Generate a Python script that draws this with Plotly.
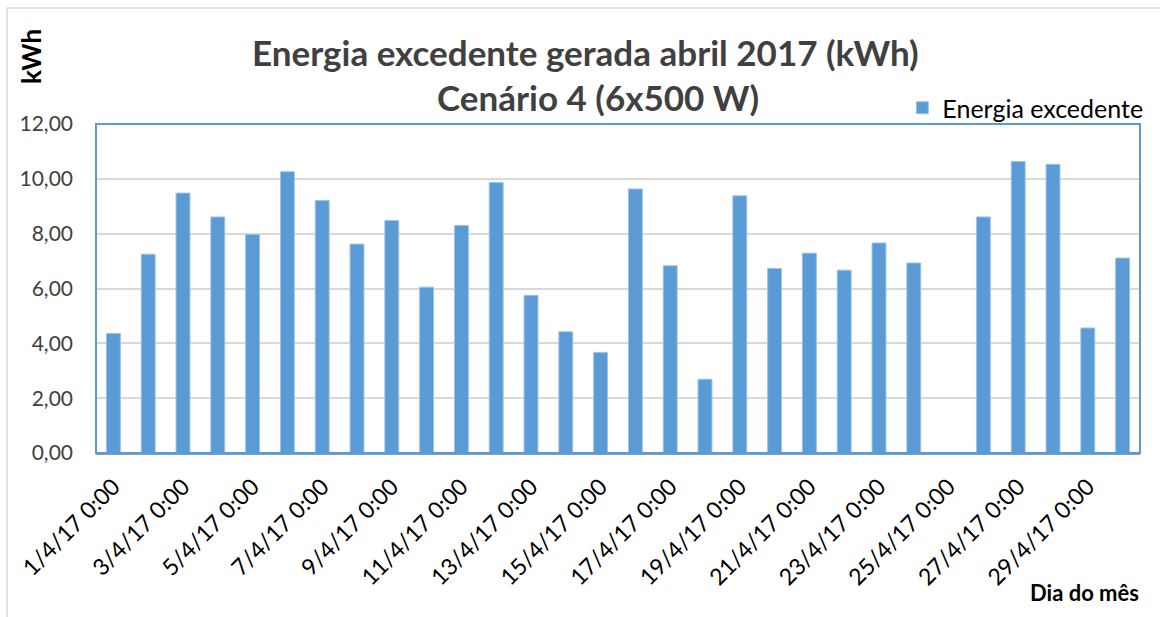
import plotly.graph_objects as go

# Surplus energy per day, April 2017 (kWh)
dias = list(range(1, 31))
energia = [4.36, 7.25, 9.48, 8.61, 7.97, 10.26, 9.21, 7.62, 8.48, 6.05,
           8.30, 9.87, 5.75, 4.42, 3.67, 9.63, 6.83, 2.69, 9.38, 6.73,
           7.29, 6.67, 7.66, 6.93, 0.0, 8.61, 10.63, 10.53, 4.56, 7.11]
tick_dias = list(range(1, 30, 2))
tick_textos = [f"{d}/4/17 0:00" for d in tick_dias]
y_ticks = [0, 2, 4, 6, 8, 10, 12]
y_textos = ["0,00", "2,00", "4,00", "6,00", "8,00", "10,00", "12,00"]

FONT = "Lato"
AZUL = "#5b9bd5"

# plot area in pixels
L, R, T, B = 96, 1140, 124, 453
W, H = R - L, B - T


def px(x):
    return (x - L) / W


def py(y):
    return (B - y) / H


fig = go.Figure()
fig.add_trace(go.Bar(
    x=dias, y=energia, name="Energia excedente",
    marker=dict(color=AZUL, line=dict(color="#9dc3e6", width=1)),
))

fig.update_layout(
    width=1160, height=617,
    paper_bgcolor="white", plot_bgcolor="white",
    margin=dict(l=L, r=1160 - R, t=T, b=617 - B, autoexpand=False),
    bargap=0.6,
    showlegend=True,
    legend=dict(x=1.008, xanchor="right", y=py(108), yanchor="middle",
                font=dict(family=FONT, size=25, color="#000000"),
                bgcolor="rgba(0,0,0,0)", itemwidth=30),
    font=dict(family=FONT, color="#595959"),
    xaxis=dict(
        range=[0.5, 30.5], tickmode="array", tickvals=tick_dias,
        ticktext=tick_textos, tickangle=-45,
        tickfont=dict(family=FONT, size=23, color="#000000"),
        showgrid=False, showline=True, linecolor="#7f9fbf", linewidth=2,
        mirror=False, ticks="", zeroline=False, ticklabelstandoff=9,
        automargin=False,
    ),
    yaxis=dict(
        range=[0, 12], tickmode="array", tickvals=y_ticks, ticktext=y_textos,
        tickfont=dict(family=FONT, size=21, color="#404040"),
        showgrid=True, gridcolor="#d9d9d9", gridwidth=2,
        showline=False, zeroline=False, ticks="", ticklabelstandoff=22,
        automargin=False,
    ),
)

# blue frame around the plotting area
fig.add_shape(type="rect", xref="paper", yref="paper", x0=0, y0=0, x1=1, y1=1,
              line=dict(color=AZUL, width=2), layer="above")

# light outer chart border
fig.add_shape(type="rect", xref="paper", yref="paper",
              x0=px(7), y0=py(640), x1=px(1180), y1=py(8),
              line=dict(color="#d9d9d9", width=1.5))

for text, x, y in [
    ("<b>Energia excedente gerada abril 2017 (kWh)</b>", 585, 52),
    ("<b>Cenário 4 (6x500 W)</b>", 598, 97),
]:
    fig.add_annotation(text=text, xref="paper", yref="paper",
                       x=px(x), y=py(y), showarrow=False,
                       xanchor="center", yanchor="middle",
                       font=dict(family=FONT, size=35, color="#404040"))

fig.add_annotation(text="<b>kWh</b>", xref="paper", yref="paper",
                   x=px(31), y=py(57), textangle=-90,
                   showarrow=False, xanchor="center", yanchor="middle",
                   font=dict(family=FONT, size=26, color="#000000"))
fig.add_annotation(text="<b>Dia do mês</b>", xref="paper", yref="paper",
                   x=px(1141), y=py(592),
                   showarrow=False, xanchor="right", yanchor="middle",
                   font=dict(family=FONT, size=22, color="#000000"))

fig.write_html("out.html")
